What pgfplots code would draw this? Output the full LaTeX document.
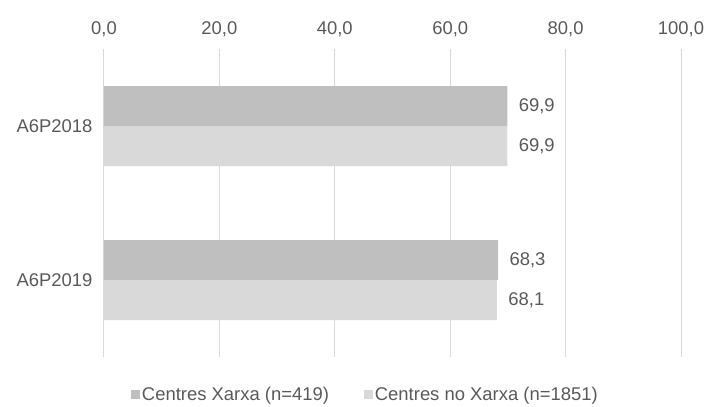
\documentclass[border=0pt]{standalone}
\usepackage{pgfplots}
\pgfplotsset{compat=1.18}
\usepackage{fontspec}
\setmainfont{Liberation Sans}
\definecolor{darkbar}{HTML}{BFBFBF}
\definecolor{lightbar}{HTML}{D9D9D9}
\definecolor{gridc}{HTML}{D9D9D9}
\definecolor{txt}{HTML}{595959}
\begin{document}
\begin{tikzpicture}
\begin{axis}[
  scale only axis, width=577bp, height=308bp,
  xbar=0pt, bar width=40bp,
  xmin=0, xmax=100, ymin=-0.5, ymax=1.5, y dir=reverse,
  axis line style={draw=none},
  major tick length=0pt,
  xtick={0,20,...,100},
  ytick={0,1}, yticklabels={A6P2018,A6P2019},
  xticklabel pos=upper,
  xmajorgrids, grid style={draw=gridc, line width=1bp},
  tick label style={font=\fontsize{18.5}{22}\selectfont, text=txt},
  xticklabel style={yshift=9bp},
  yticklabel style={xshift=-8bp},
  nodes near coords,
  nodes near coords style={font=\fontsize{18.5}{22}\selectfont, text=txt, xshift=8bp},
  legend style={at={(0.453,-0.123)}, anchor=center, draw=none, fill=none,
    legend columns=2, font=\fontsize{18.5}{22}\selectfont, text=txt,
    /tikz/every even column/.append style={column sep=33bp},
    legend cell align=left},
  /pgf/number format/.cd, use comma, fixed, fixed zerofill, precision=1, assume math mode=true
]
\addplot[fill=darkbar, draw=none, bar shift=20bp, legend image code/.code={\fill[darkbar] (0bp,-4.5bp) rectangle (9bp,4.5bp);}]
  coordinates {(69.9,0) (68.3,1)};
\addplot[fill=lightbar, draw=none, bar shift=-20bp, legend image code/.code={\fill[lightbar] (0bp,-4.5bp) rectangle (9bp,4.5bp);}]
  coordinates {(69.9,0) (68.1,1)};
\legend{Centres Xarxa (n=419), Centres no Xarxa (n=1851)}
\end{axis}
\pgfresetboundingbox
\path[use as bounding box] ([xshift=-104bp,yshift=-50bp]current axis.south west) rectangle ([xshift=26bp,yshift=49bp]current axis.north east);
\end{tikzpicture}
\end{document}
